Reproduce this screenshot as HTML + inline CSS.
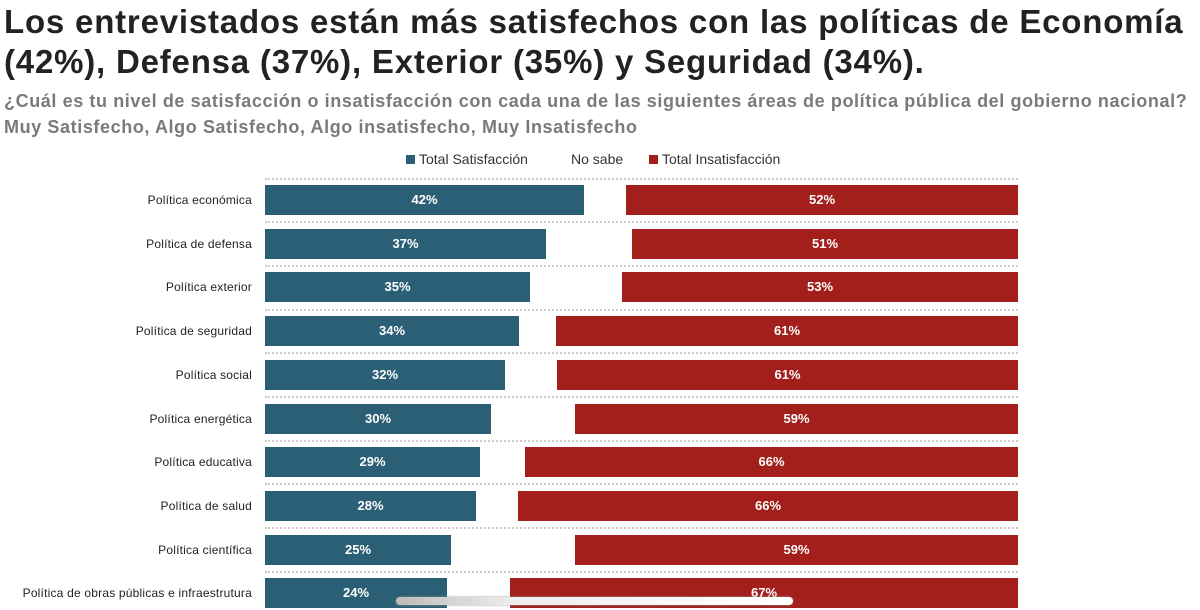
<!DOCTYPE html>
<html><head><meta charset="utf-8"><style>
body{margin:0;width:1200px;height:610px;background:#fff;font-family:"Liberation Sans",sans-serif;overflow:hidden;position:relative}
.t{position:absolute;left:4px;top:2px;font-size:33px;font-weight:bold;color:#222;line-height:40px;letter-spacing:0.8px;white-space:nowrap}
.s{position:absolute;left:4px;top:88px;font-size:18px;font-weight:bold;color:#7a7a7a;line-height:26px;letter-spacing:0.6px;white-space:nowrap}
.lg{position:absolute;top:151px;font-size:14px;color:#333}
.sq{display:inline-block;width:9px;height:9px;margin-right:4px;vertical-align:0}
.lab{position:absolute;right:948px;font-size:12px;letter-spacing:0.2px;color:#222;text-align:right;white-space:nowrap}
.b{position:absolute;height:30px;color:#fff;font-weight:bold;font-size:13px;line-height:30px;text-align:center}
.sep{position:absolute;left:265px;width:753px;border-top:2px dotted #ccc}
</style></head><body>
<div class="t">Los entrevistados están más satisfechos con las políticas de Economía<br>(42%), Defensa (37%), Exterior (35%) y Seguridad (34%).</div>
<div class="s">¿Cuál es tu nivel de satisfacción o insatisfacción con cada una de las siguientes áreas de política pública del gobierno nacional?<br>Muy Satisfecho, Algo Satisfecho, Algo insatisfecho, Muy Insatisfecho</div>
<div class="lg" style="left:406px"><span class="sq" style="background:#2b5f75"></span>Total Satisfacción</div>
<div class="lg" style="left:571px">No sabe</div>
<div class="lg" style="left:649px"><span class="sq" style="background:#a21f1b"></span>Total Insatisfacción</div>
<div id="c"></div>
<div style="position:absolute;left:396px;top:597px;width:397px;height:8px;border-radius:4px;background:linear-gradient(90deg,#bbb,#eee 30%,#fff);box-shadow:0 0 2px #999"></div>
<script>
var d=[["Política económica",584,"42%",626,"52%"],["Política de defensa",546,"37%",632,"51%"],["Política exterior",530,"35%",622,"53%"],["Política de seguridad",519,"34%",556,"61%"],["Política social",505,"32%",557,"61%"],["Política energética",491,"30%",575,"59%"],["Política educativa",480,"29%",525,"66%"],["Política de salud",476,"28%",518,"66%"],["Política científica",451,"25%",575,"59%"],["Política de obras públicas e infraestrutura",447,"24%",510,"67%"]];
var h="";
d.forEach(function(r,i){var c=200+i*43.7,t=c-15;
h+='<div class="sep" style="top:'+(c-22.5)+'px"></div>';
h+='<div class="lab" style="top:'+(c-7)+'px">'+r[0]+'</div>';
h+='<div class="b" style="left:265px;top:'+t+'px;width:'+(r[1]-265)+'px;background:#2b5f75">'+r[2]+'</div>';
h+='<div class="b" style="left:'+r[3]+'px;top:'+t+'px;width:'+(1018-r[3])+'px;background:#a21f1b">'+r[4]+'</div>';});
document.getElementById("c").innerHTML=h;
</script>
</body></html>
